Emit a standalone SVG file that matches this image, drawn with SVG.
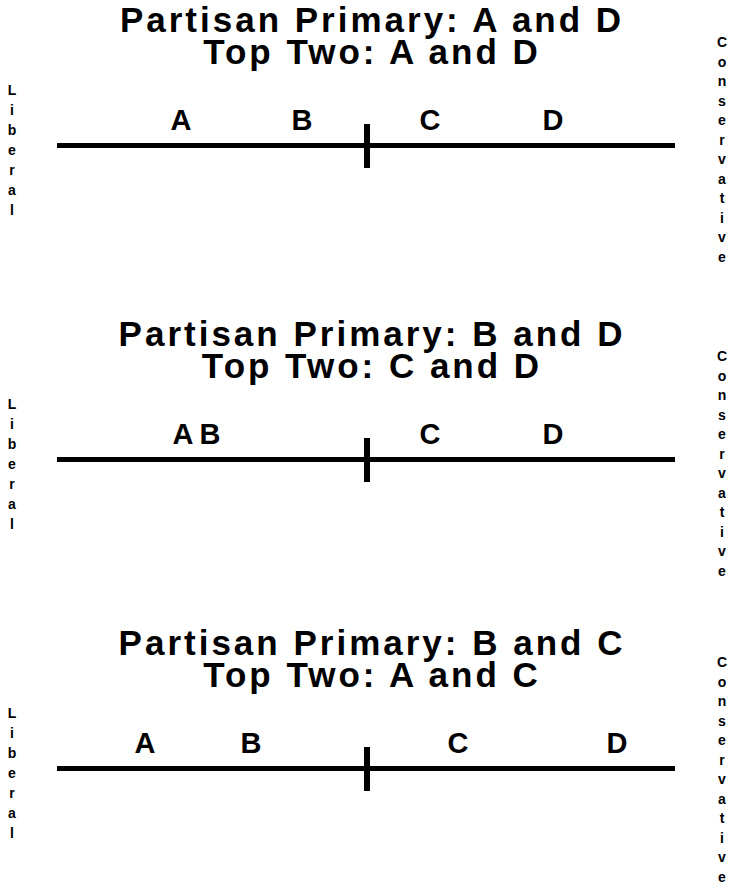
<svg xmlns="http://www.w3.org/2000/svg" width="735" height="888" viewBox="0 0 735 888">
  <style>
    text { font-family: "Liberation Sans", Arial, Helvetica, sans-serif; font-weight: bold; fill: #000; }
    .title { font-size: 35px; letter-spacing: 3px; text-anchor: middle; }
    .cand { font-size: 29px; text-anchor: middle; }
    .side { font-size: 14px; text-anchor: middle; }
    .axis { stroke: #000; stroke-width: 5; fill: none; }
    .tick { stroke: #000; stroke-width: 6; fill: none; }
  </style>

  <!-- Scenario 1 -->
  <g id="scenario-1">
    <g id="title-1">
      <text class="title" x="372" y="32">Partisan Primary: A and D</text>
      <text class="title" x="372" y="64">Top Two: A and D</text>
    </g>
    <g id="axis-1">
      <line class="axis" x1="57" y1="145.5" x2="675" y2="145.5"/>
      <line class="tick" x1="367" y1="124" x2="367" y2="168"/>
    </g>
    <g id="candidates-1">
      <text class="cand" x="181" y="130">A</text>
      <text class="cand" x="302" y="130">B</text>
      <text class="cand" x="430" y="130">C</text>
      <text class="cand" x="553" y="130">D</text>
    </g>
    <text id="liberal-1" class="side" x="12" y="95">
      <tspan x="12">L</tspan><tspan x="12" dy="20">i</tspan><tspan x="12" dy="20">b</tspan><tspan x="12" dy="20">e</tspan><tspan x="12" dy="20">r</tspan><tspan x="12" dy="20">a</tspan><tspan x="12" dy="20">l</tspan>
    </text>
    <text id="conservative-1" class="side" x="722" y="47">
      <tspan x="722">C</tspan><tspan x="722" dy="19.5">o</tspan><tspan x="722" dy="19.5">n</tspan><tspan x="722" dy="19.5">s</tspan><tspan x="722" dy="19.5">e</tspan><tspan x="722" dy="19.5">r</tspan><tspan x="722" dy="19.5">v</tspan><tspan x="722" dy="19.5">a</tspan><tspan x="722" dy="19.5">t</tspan><tspan x="722" dy="19.5">i</tspan><tspan x="722" dy="19.5">v</tspan><tspan x="722" dy="19.5">e</tspan>
    </text>
  </g>

  <!-- Scenario 2 -->
  <g id="scenario-2" transform="translate(0,314)">
    <g id="title-2">
      <text class="title" x="372" y="32">Partisan Primary: B and D</text>
      <text class="title" x="372" y="64">Top Two: C and D</text>
    </g>
    <g id="axis-2">
      <line class="axis" x1="57" y1="145.5" x2="675" y2="145.5"/>
      <line class="tick" x1="367" y1="124" x2="367" y2="168"/>
    </g>
    <g id="candidates-2">
      <text class="cand" x="183" y="130">A</text>
      <text class="cand" x="210" y="130">B</text>
      <text class="cand" x="430" y="130">C</text>
      <text class="cand" x="553" y="130">D</text>
    </g>
    <text id="liberal-2" class="side" x="12" y="95">
      <tspan x="12">L</tspan><tspan x="12" dy="20">i</tspan><tspan x="12" dy="20">b</tspan><tspan x="12" dy="20">e</tspan><tspan x="12" dy="20">r</tspan><tspan x="12" dy="20">a</tspan><tspan x="12" dy="20">l</tspan>
    </text>
    <text id="conservative-2" class="side" x="722" y="47">
      <tspan x="722">C</tspan><tspan x="722" dy="19.5">o</tspan><tspan x="722" dy="19.5">n</tspan><tspan x="722" dy="19.5">s</tspan><tspan x="722" dy="19.5">e</tspan><tspan x="722" dy="19.5">r</tspan><tspan x="722" dy="19.5">v</tspan><tspan x="722" dy="19.5">a</tspan><tspan x="722" dy="19.5">t</tspan><tspan x="722" dy="19.5">i</tspan><tspan x="722" dy="19.5">v</tspan><tspan x="722" dy="19.5">e</tspan>
    </text>
  </g>

  <!-- Scenario 3 -->
  <g id="scenario-3" transform="translate(0,623)">
    <g id="title-3">
      <text class="title" x="372" y="32">Partisan Primary: B and C</text>
      <text class="title" x="372" y="64">Top Two: A and C</text>
    </g>
    <g id="axis-3">
      <line class="axis" x1="57" y1="145.5" x2="675" y2="145.5"/>
      <line class="tick" x1="367" y1="124" x2="367" y2="168"/>
    </g>
    <g id="candidates-3">
      <text class="cand" x="145" y="130">A</text>
      <text class="cand" x="251" y="130">B</text>
      <text class="cand" x="458" y="130">C</text>
      <text class="cand" x="617" y="130">D</text>
    </g>
    <text id="liberal-3" class="side" x="12" y="95">
      <tspan x="12">L</tspan><tspan x="12" dy="20">i</tspan><tspan x="12" dy="20">b</tspan><tspan x="12" dy="20">e</tspan><tspan x="12" dy="20">r</tspan><tspan x="12" dy="20">a</tspan><tspan x="12" dy="20">l</tspan>
    </text>
    <text id="conservative-3" class="side" x="722" y="44">
      <tspan x="722">C</tspan><tspan x="722" dy="19.5">o</tspan><tspan x="722" dy="19.5">n</tspan><tspan x="722" dy="19.5">s</tspan><tspan x="722" dy="19.5">e</tspan><tspan x="722" dy="19.5">r</tspan><tspan x="722" dy="19.5">v</tspan><tspan x="722" dy="19.5">a</tspan><tspan x="722" dy="19.5">t</tspan><tspan x="722" dy="19.5">i</tspan><tspan x="722" dy="19.5">v</tspan><tspan x="722" dy="19.5">e</tspan>
    </text>
  </g>
</svg>
